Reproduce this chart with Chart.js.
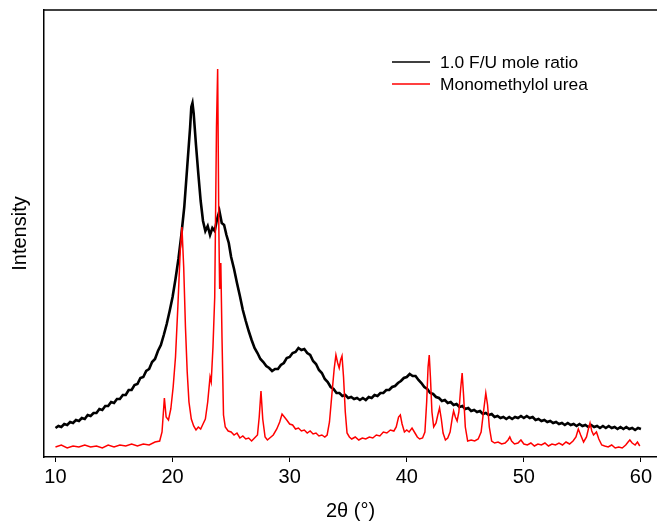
<!DOCTYPE html>
<html>
<head>
<meta charset="utf-8">
<script src="https://cdn.jsdelivr.net/npm/chart.js@4"></script>
<style>
  body { margin: 0; background: #fff; }
  canvas { display: block; }
</style>
</head>
<body>
<canvas id="xrd-chart" width="657" height="524"></canvas>
<script>
// 2-theta tick labels on the x axis
var xTicks = [10, 20, 30, 40, 50, 60];

// 1.0 F/U mole ratio (black trace), arbitrary intensity units
var fuX = [10, 10.25, 10.5, 10.75, 11, 11.25, 11.5, 11.75, 12, 12.25, 12.5, 12.75, 13, 13.25, 13.5, 13.75,
           14, 14.25, 14.5, 14.75, 15, 15.25, 15.5, 15.75, 16, 16.25, 16.5, 16.75, 17, 17.25, 17.5, 17.75,
           18, 18.25, 18.5, 18.75, 19, 19.25, 19.5, 19.75, 20, 20.25, 20.5, 20.75, 21, 21.25, 21.5, 21.6,
           21.7, 21.8, 22, 22.2, 22.4, 22.6, 22.8, 23, 23.2, 23.4, 23.6, 23.8, 24, 24.2, 24.4, 24.6,
           24.8, 25, 25.25, 25.5, 25.75, 26, 26.25, 26.5, 26.75, 27, 27.25, 27.5, 27.75, 28, 28.25, 28.5,
           28.75, 29, 29.25, 29.5, 29.75, 30, 30.25, 30.5, 30.75, 31, 31.25, 31.5, 31.75, 32, 32.25, 32.5,
           32.75, 33, 33.25, 33.5, 33.75, 34, 34.25, 34.5, 34.75, 35, 35.25, 35.5, 35.75, 36, 36.25, 36.5,
           36.75, 37, 37.25, 37.5, 37.75, 38, 38.25, 38.5, 38.75, 39, 39.25, 39.5, 39.75, 40, 40.25, 40.5,
           40.75, 41, 41.25, 41.5, 41.75, 42, 42.25, 42.5, 42.75, 43, 43.25, 43.5, 43.75, 44, 44.25, 44.5,
           44.75, 45, 45.25, 45.5, 45.75, 46, 46.25, 46.5, 46.75, 47, 47.25, 47.5, 47.75, 48, 48.25, 48.5,
           48.75, 49, 49.25, 49.5, 49.75, 50, 50.25, 50.5, 50.75, 51, 51.25, 51.5, 51.75, 52, 52.25, 52.5,
           52.75, 53, 53.25, 53.5, 53.75, 54, 54.25, 54.5, 54.75, 55, 55.25, 55.5, 55.75, 56, 56.25, 56.5,
           56.75, 57, 57.25, 57.5, 57.75, 58, 58.25, 58.5, 58.75, 59, 59.25, 59.5, 59.75, 60];
var fuY = [29, 31, 30, 33, 32, 35, 34, 37, 36, 39, 38, 42, 41, 44, 44, 48,
           47, 51, 51, 55, 54, 58, 58, 62, 62, 67, 67, 72, 73, 79, 80, 86,
           88, 95, 98, 106, 112, 122, 133, 146, 160, 178, 198, 222, 250, 290, 330, 350,
           354, 344, 312, 283, 256, 236, 226, 231, 222, 229, 226, 238, 246, 234, 232, 222,
           214, 200, 188, 174, 161, 147, 136, 126, 117, 109, 104, 98, 95, 91, 89, 86,
           88, 88, 92, 94, 99, 100, 104, 105, 109, 107, 108, 104, 102, 96, 93, 87,
           84, 78, 75, 70, 68, 64, 64, 61, 62, 59, 60, 58, 59, 57, 59, 57,
           60, 59, 62, 61, 64, 64, 67, 67, 70, 71, 74, 76, 79, 80, 83, 81,
           81, 77, 74, 70, 68, 64, 63, 60, 59, 56, 57, 54, 55, 52, 53, 50,
           51, 48, 49, 46, 47, 45, 46, 43, 44, 42, 43, 40, 41, 39, 40, 38,
           40, 38, 40, 39, 41, 39, 41, 39, 40, 37, 38, 36, 37, 35, 36, 34,
           35, 33, 34, 32, 34, 32, 33, 31, 33, 31, 32, 30, 32, 30, 31, 29,
           31, 29, 31, 29, 30, 28, 30, 28, 30, 28, 29, 27, 29, 28];

// Monomethylol urea (red trace)
var mmuX = [10, 10.5, 11, 11.5, 12, 12.5, 13, 13.5, 14, 14.5, 15, 15.5, 16, 16.5, 17, 17.5,
            18, 18.5, 18.9, 19.1, 19.3, 19.45, 19.65, 19.85, 20.05, 20.25, 20.45, 20.65, 20.8, 20.95, 21.1, 21.25,
            21.4, 21.6, 21.8, 22, 22.2, 22.4, 22.6, 22.8, 23, 23.2, 23.3, 23.45, 23.6, 23.75, 23.85, 23.95,
            24.02, 24.12, 24.22, 24.35, 24.5, 24.75, 25, 25.25, 25.5, 25.75, 26, 26.25, 26.5, 26.75, 27, 27.25,
            27.4, 27.55, 27.7, 27.9, 28.1, 28.3, 28.6, 28.9, 29.15, 29.35, 29.55, 29.75, 30, 30.25, 30.5, 30.75,
            31, 31.25, 31.5, 31.75, 32, 32.25, 32.5, 32.75, 33, 33.2, 33.4, 33.6, 33.8, 33.95, 34.1, 34.23,
            34.35, 34.47, 34.6, 34.75, 34.9, 35.1, 35.3, 35.6, 35.9, 36.2, 36.5, 36.8, 37.1, 37.4, 37.7, 38,
            38.3, 38.6, 38.9, 39.1, 39.3, 39.45, 39.6, 39.8, 40, 40.2, 40.45, 40.7, 40.9, 41.1, 41.35, 41.55,
            41.7, 41.82, 41.92, 42.02, 42.15, 42.3, 42.5, 42.65, 42.8, 42.95, 43.1, 43.3, 43.5, 43.7, 43.9, 44,
            44.15, 44.3, 44.45, 44.6, 44.73, 44.85, 45, 45.2, 45.5, 45.8, 46.1, 46.35, 46.55, 46.75, 46.9, 47.05,
            47.25, 47.5, 47.8, 48.1, 48.4, 48.65, 48.8, 48.95, 49.2, 49.5, 49.75, 50, 50.3, 50.6, 50.9, 51.2,
            51.5, 51.8, 52.1, 52.4, 52.7, 53, 53.3, 53.6, 53.9, 54.2, 54.45, 54.65, 54.85, 55.1, 55.35, 55.55,
            55.65, 55.8, 55.95, 56.2, 56.4, 56.65, 56.9, 57.2, 57.5, 57.8, 58.1, 58.4, 58.7, 58.9, 59.05, 59.25,
            59.5, 59.7, 59.9];
var mmuY = [10, 12, 9, 11, 10, 12, 10, 11, 9, 12, 10, 12, 11, 13, 11, 13,
            12, 15, 16, 25, 59, 40, 37, 48, 70, 100, 150, 205, 230, 190, 130, 85,
            55, 38, 31, 27, 30, 28, 33, 38, 55, 80, 75, 110, 160, 330, 388, 230,
            168, 194, 120, 42, 30, 26, 25, 22, 24, 19, 21, 18, 19, 16, 19, 22,
            40, 66, 38, 20, 17, 19, 22, 28, 35, 43, 40, 37, 33, 32, 28, 29,
            26, 27, 24, 26, 23, 24, 21, 22, 20, 22, 35, 62, 88, 102, 94, 89,
            97, 101, 80, 45, 24, 20, 18, 20, 17, 19, 18, 20, 19, 22, 21, 25,
            24, 27, 26, 30, 40, 42, 33, 25, 27, 25, 29, 24, 20, 18, 19, 25,
            55, 90, 102, 80, 45, 30, 34, 42, 49, 38, 24, 17, 19, 25, 40, 46,
            40, 36, 45, 68, 84, 62, 30, 16, 17, 16, 18, 25, 45, 64, 52, 30,
            16, 14, 15, 13, 14, 17, 20, 16, 13, 14, 17, 13, 12, 14, 11, 13,
            12, 14, 11, 13, 12, 14, 12, 15, 13, 16, 20, 28, 22, 15, 20, 30,
            34, 26, 22, 25, 18, 12, 11, 10, 12, 9, 10, 9, 12, 15, 17, 14,
            12, 15, 11];

function toPoints(xs, ys) {
    return xs.map(function(x, i) { return { x: x, y: ys[i] }; });
}

var FONT = "'Liberation Sans', Arial, sans-serif";

// legend drawn inside the plot, top right, like the original figure
var insideLegend = {
    id: "insideLegend",
    afterDraw: function(chart) {
        var ctx = chart.ctx;
        var area = chart.chartArea;
        ctx.save();
        // top frame line (no right frame in the original)
        ctx.strokeStyle = "#000";
        ctx.lineWidth = 1.5;
        ctx.beginPath();
        ctx.moveTo(area.left, area.top);
        ctx.lineTo(area.right, area.top);
        ctx.stroke();

        var x0 = area.left + 348;
        var y0 = area.top + 52;
        chart.data.datasets.forEach(function(ds, i) {
            var y = y0 + i * 22;
            ctx.strokeStyle = ds.borderColor;
            ctx.lineWidth = 1.5;
            ctx.beginPath();
            ctx.moveTo(x0, y);
            ctx.lineTo(x0 + 38, y);
            ctx.stroke();
            ctx.fillStyle = "#000";
            ctx.font = "17.4px " + FONT;
            ctx.textBaseline = "middle";
            ctx.fillText(ds.label, x0 + 48, y + 1);
        });
        ctx.restore();
    }
};

var ctx = document.getElementById("xrd-chart").getContext("2d");
var chart = new Chart(ctx, {
    type: "line",
    data: {
        datasets: [
            {
                label: "1.0 F/U mole ratio",
                data: toPoints(fuX, fuY),
                borderColor: "#000000",
                borderWidth: 2.6,
                pointRadius: 0,
                fill: false,
                order: 1
            },
            {
                label: "Monomethylol urea",
                data: toPoints(mmuX, mmuY),
                borderColor: "#ff0000",
                borderWidth: 1.5,
                pointRadius: 0,
                fill: false,
                order: 0
            }
        ]
    },
    options: {
        responsive: false,
        animation: false,
        layout: { padding: { top: 10, right: 0, left: 0, bottom: 0 } },
        plugins: {
            legend: { display: false },
            tooltip: { enabled: false }
        },
        scales: {
            x: {
                type: "linear",
                min: 9.02,
                max: 61.37,
                afterBuildTicks: function(axis) {
                    axis.ticks = xTicks.map(function(v) { return { value: v }; });
                },
                afterFit: function(axis) { axis.height = 67; },
                grid: {
                    display: true,
                    drawOnChartArea: false,
                    drawTicks: true,
                    tickLength: 5,
                    color: "#000",
                    lineWidth: 1
                },
                border: { display: true, color: "#000", width: 1.5 },
                ticks: {
                    color: "#000",
                    padding: 3,
                    maxRotation: 0,
                    font: { family: FONT, size: 20 }
                },
                title: {
                    display: true,
                    text: "2θ (°)",
                    color: "#000",
                    padding: { top: 0, bottom: 1 },
                    font: { family: FONT, size: 20 }
                }
            },
            y: {
                type: "linear",
                min: 0,
                max: 447,
                afterFit: function(axis) { axis.width = 44; },
                grid: { display: false },
                border: { display: true, color: "#000", width: 1.5 },
                ticks: { display: false },
                title: {
                    display: true,
                    text: "Intensity",
                    color: "#000",
                    padding: { top: 8, bottom: 0 },
                    font: { family: FONT, size: 20 }
                }
            }
        }
    },
    plugins: [insideLegend]
});
</script>
</body>
</html>
